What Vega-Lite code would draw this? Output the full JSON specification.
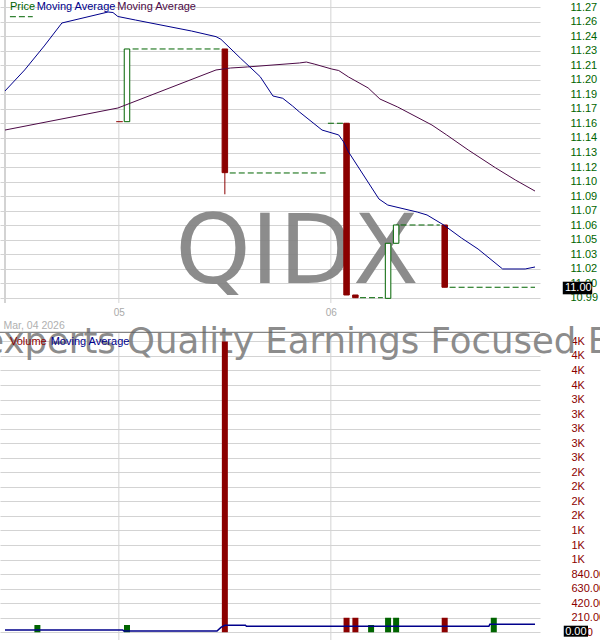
{
  "$schema": "https://vega.github.io/schema/vega-lite/v6.json",
  "width": 540,
  "height": 640,
  "autosize": {"type": "none"},
  "padding": {"left": 0, "top": 0, "right": 60, "bottom": 0},
  "background": "white",
  "config": {"view": {"stroke": null}, "font": "Liberation Sans"},
  "datasets": {
    "months": [{"m": 5}, {"m": 6}],
    "candles": [
      {"t": 5.03843, "open": 11.1595, "high": 11.2291, "low": 11.1595, "close": 11.2291, "dir": "up"},
      {"t": 5.5, "open": 11.2291, "high": 11.2291, "low": 11.0900, "close": 11.1107, "dir": "down"},
      {"t": 6.07407, "open": 11.1580, "high": 11.1580, "low": 10.9936, "close": 10.9936, "dir": "down"},
      {"t": 6.11574, "open": 10.9936, "high": 10.9936, "low": 10.9910, "close": 10.9910, "dir": "down"},
      {"t": 6.26991, "open": 10.9904, "high": 11.0431, "low": 10.9904, "close": 11.0431, "dir": "up"},
      {"t": 6.30787, "open": 11.0431, "high": 11.0606, "low": 11.0431, "close": 11.0606, "dir": "up"},
      {"t": 6.53704, "open": 11.0606, "high": 11.0606, "low": 11.0010, "close": 11.0010, "dir": "down"}
    ],
    "volume": [
      {"t": 4.61574, "volume": 105, "dir": "up"},
      {"t": 5.03843, "volume": 105, "dir": "up"},
      {"t": 5.5, "volume": 4200, "dir": "down"},
      {"t": 6.07407, "volume": 210, "dir": "down"},
      {"t": 6.11574, "volume": 210, "dir": "down"},
      {"t": 6.18981, "volume": 105, "dir": "up"},
      {"t": 6.26991, "volume": 210, "dir": "up"},
      {"t": 6.30787, "volume": 210, "dir": "up"},
      {"t": 6.53704, "volume": 210, "dir": "down"},
      {"t": 6.76852, "volume": 210, "dir": "up"}
    ],
    "flats": [
      {"from": 4.98750, "to": 5.01852, "price": 11.1595, "dir": "down"},
      {"from": 5.06481, "to": 5.48148, "price": 11.2291, "dir": "up"},
      {"from": 5.52315, "to": 5.97546, "price": 11.1104, "dir": "up"},
      {"from": 5.98611, "to": 6.06019, "price": 11.1580, "dir": "up"},
      {"from": 6.13750, "to": 6.24537, "price": 10.9910, "dir": "up"},
      {"from": 6.32870, "to": 6.51389, "price": 11.0606, "dir": "up"},
      {"from": 6.56019, "to": 6.96296, "price": 11.0010, "dir": "up"}
    ],
    "ma_fast": [
      {"t": 4.46296, "value": 11.1889},
      {"t": 4.55556, "value": 11.2090},
      {"t": 4.64815, "value": 11.2320},
      {"t": 4.73148, "value": 11.2540},
      {"t": 4.94907, "value": 11.2645},
      {"t": 4.97222, "value": 11.2640},
      {"t": 4.99537, "value": 11.2602},
      {"t": 5.07870, "value": 11.2568},
      {"t": 5.34259, "value": 11.2463},
      {"t": 5.45833, "value": 11.2409},
      {"t": 5.48148, "value": 11.2384},
      {"t": 5.57407, "value": 11.2202},
      {"t": 5.66667, "value": 11.2026},
      {"t": 5.72685, "value": 11.1841},
      {"t": 5.77315, "value": 11.1819},
      {"t": 5.81944, "value": 11.1745},
      {"t": 5.85185, "value": 11.1688},
      {"t": 5.95833, "value": 11.1515},
      {"t": 6.03704, "value": 11.1468},
      {"t": 6.06019, "value": 11.1401},
      {"t": 6.08333, "value": 11.1305},
      {"t": 6.22685, "value": 11.0855},
      {"t": 6.26852, "value": 11.0797},
      {"t": 6.40741, "value": 11.0730},
      {"t": 6.45370, "value": 11.0702},
      {"t": 6.53241, "value": 11.0606},
      {"t": 6.61574, "value": 11.0482},
      {"t": 6.69444, "value": 11.0376},
      {"t": 6.81019, "value": 11.0185},
      {"t": 6.91667, "value": 11.0185},
      {"t": 6.96296, "value": 11.0204}
    ],
    "ma_slow": [
      {"t": 4.46296, "value": 11.1515},
      {"t": 4.99537, "value": 11.1726},
      {"t": 5.45833, "value": 11.2090},
      {"t": 5.52778, "value": 11.2109},
      {"t": 5.60648, "value": 11.2119},
      {"t": 5.85185, "value": 11.2157},
      {"t": 5.88426, "value": 11.2166},
      {"t": 5.92130, "value": 11.2147},
      {"t": 6.00463, "value": 11.2099},
      {"t": 6.03704, "value": 11.2085},
      {"t": 6.08333, "value": 11.2023},
      {"t": 6.17593, "value": 11.1918},
      {"t": 6.23148, "value": 11.1812},
      {"t": 6.31481, "value": 11.1736},
      {"t": 6.47685, "value": 11.1563},
      {"t": 6.54630, "value": 11.1468},
      {"t": 6.64815, "value": 11.1324},
      {"t": 6.77778, "value": 11.1152},
      {"t": 6.87037, "value": 11.1037},
      {"t": 6.96296, "value": 11.0931}
    ],
    "vol_ma": [
      {"t": 4.46296, "value": 33},
      {"t": 5.01852, "value": 33},
      {"t": 5.02315, "value": 19},
      {"t": 5.46296, "value": 19},
      {"t": 5.48148, "value": 70},
      {"t": 5.5, "value": 101},
      {"t": 5.59722, "value": 101},
      {"t": 5.60185, "value": 87},
      {"t": 6.74537, "value": 87},
      {"t": 6.75, "value": 115},
      {"t": 6.96296, "value": 115}
    ]
  },
  "layer": [
    {
      "layer": [
        {
          "data": {"name": "months"},
          "mark": {"type": "rule", "color": "#d3d3d3", "strokeWidth": 1},
          "encoding": {
            "x": {
              "field": "m", "type": "quantitative",
              "scale": {"domain": [4.46296, 6.96296], "nice": false, "zero": false},
              "axis": {
                "orient": "bottom", "offset": -337, "values": [5, 6], "format": "02d",
                "grid": false, "ticks": false, "tickSize": 0, "domain": false, "tickCount": 100,
                "labelColor": "#aaaaaa", "labelFont": "Liberation Sans", "labelFontSize": 10,
                "labelPadding": 4, "labelFlush": false, "labelOverlap": false,
                "title": "Mar, 04 2026", "titleFont": "Liberation Sans", "titleFontSize": 10.5,
                "titleFontWeight": "normal", "titleColor": "#b0b0b0", "titleAnchor": "start",
                "titleAlign": "left", "titleBaseline": "alphabetic", "titleX": 3, "titleY": 25
              }
            },
            "y": {
              "datum": 11.27599, "type": "quantitative",
              "scale": {"domain": [10.66332, 11.27599], "nice": false, "zero": false},
              "axis": {
                "orient": "right",
                "values": [10.991, 11.0049, 11.0188, 11.0327, 11.0466, 11.0605, 11.0744, 11.0883, 11.1022, 11.1161, 11.13, 11.1439, 11.1578, 11.1717, 11.1856, 11.1995, 11.2134, 11.2273, 11.2412, 11.2551, 11.269],
                "tickCount": 100,
                "format": ".2f", "grid": true, "gridColor": "#d3d3d3", "gridWidth": 1,
                "ticks": false, "tickSize": 0, "domain": false,
                "labelAlign": "left", "labelBaseline": "middle", "labelPadding": 30,
                "labelColor": "#006400", "labelFont": "Liberation Sans", "labelFontSize": 11,
                "labelOverlap": false, "labelFlush": false, "labelBound": false, "title": null
              }
            },
            "y2": {"datum": 10.98593}
          }
        },
        {
          "data": {"values": [{}]},
          "mark": {"type": "rule", "color": "#d3d3d3", "strokeWidth": 2},
          "encoding": {
            "x": {"datum": 4.46296, "type": "quantitative"},
            "y": {"datum": 11.27599, "type": "quantitative"},
            "y2": {"datum": 10.98593}
          }
        },
        {
          "data": {"values": [{}]},
          "mark": {"type": "text", "text": "QIDX", "font": "DejaVu Sans", "fontSize": 96, "align": "center", "baseline": "alphabetic", "color": "#808080", "opacity": 0.9},
          "encoding": {
            "x": {"datum": 5.84028, "type": "quantitative"},
            "y": {"datum": 11.00507, "type": "quantitative"}
          }
        },
        {
          "data": {"name": "flats"},
          "transform": [{"filter": "datum.dir == 'up'"}],
          "mark": {"type": "rule", "color": "#006400", "strokeDash": [6, 3], "strokeWidth": 1},
          "encoding": {
            "x": {"field": "from", "type": "quantitative"},
            "x2": {"field": "to"},
            "y": {"field": "price", "type": "quantitative"}
          }
        },
        {
          "data": {"name": "flats"},
          "transform": [{"filter": "datum.dir == 'down'"}],
          "mark": {"type": "rule", "color": "#8b0000", "strokeWidth": 1},
          "encoding": {
            "x": {"field": "from", "type": "quantitative"},
            "x2": {"field": "to"},
            "y": {"field": "price", "type": "quantitative"}
          }
        },
        {
          "data": {"name": "candles"},
          "mark": {"type": "rule", "strokeWidth": 1},
          "encoding": {
            "x": {"field": "t", "type": "quantitative"},
            "y": {"field": "low", "type": "quantitative"},
            "y2": {"field": "high"},
            "stroke": {"field": "dir", "type": "nominal", "scale": {"domain": ["up", "down"], "range": ["#006400", "#8b0000"]}, "legend": null}
          }
        },
        {
          "data": {"name": "candles"},
          "mark": {"type": "bar", "width": 5.5, "strokeWidth": 1, "orient": "vertical"},
          "encoding": {
            "x": {"field": "t", "type": "quantitative"},
            "y": {"field": "open", "type": "quantitative"},
            "y2": {"field": "close"},
            "fill": {"field": "dir", "type": "nominal", "scale": {"domain": ["up", "down"], "range": ["#ffffff", "#8b0000"]}, "legend": null},
            "stroke": {"field": "dir", "type": "nominal", "scale": {"domain": ["up", "down"], "range": ["#006400", "#8b0000"]}, "legend": null}
          }
        },
        {
          "data": {"name": "ma_slow"},
          "mark": {"type": "line", "color": "#4c0a46", "strokeWidth": 1},
          "encoding": {
            "x": {"field": "t", "type": "quantitative"},
            "y": {"field": "value", "type": "quantitative"}
          }
        },
        {
          "data": {"name": "ma_fast"},
          "mark": {"type": "line", "color": "#00008b", "strokeWidth": 1},
          "encoding": {
            "x": {"field": "t", "type": "quantitative"},
            "y": {"field": "value", "type": "quantitative"}
          }
        },
        {
          "data": {"values": [{}]},
          "mark": {"type": "text", "text": "Price", "align": "left", "baseline": "alphabetic", "dx": 5, "font": "Liberation Sans", "fontSize": 11, "color": "#006400"},
          "encoding": {
            "x": {"datum": 4.46296, "type": "quantitative"},
            "y": {"datum": 11.26594, "type": "quantitative"}
          }
        },
        {
          "data": {"values": [{}]},
          "mark": {"type": "text", "text": "Moving Average", "align": "left", "baseline": "alphabetic", "dx": 31.7, "font": "Liberation Sans", "fontSize": 11, "color": "#00008b"},
          "encoding": {
            "x": {"datum": 4.46296, "type": "quantitative"},
            "y": {"datum": 11.26594, "type": "quantitative"}
          }
        },
        {
          "data": {"values": [{}]},
          "mark": {"type": "text", "text": "Moving Average", "align": "left", "baseline": "alphabetic", "dx": 112.3, "font": "Liberation Sans", "fontSize": 11, "color": "#4c0a46"},
          "encoding": {
            "x": {"datum": 4.46296, "type": "quantitative"},
            "y": {"datum": 11.26594, "type": "quantitative"}
          }
        },
        {
          "data": {"values": [{}]},
          "mark": {"type": "rule", "color": "#006400", "strokeDash": [6, 3], "strokeWidth": 1},
          "encoding": {
            "x": {"datum": 4.48611, "type": "quantitative"},
            "x2": {"datum": 4.59398},
            "y": {"datum": 11.26000, "type": "quantitative"}
          }
        },
        {
          "data": {"values": [{}]},
          "mark": {"type": "rect", "color": "#000000"},
          "encoding": {
            "x": {"datum": 7.09398, "type": "quantitative"},
            "x2": {"datum": 7.23287},
            "y": {"datum": 11.00632, "type": "quantitative"},
            "y2": {"datum": 10.99425}
          }
        },
        {
          "data": {"values": [{}]},
          "mark": {"type": "text", "text": "11.00", "align": "left", "baseline": "alphabetic", "font": "Liberation Sans", "fontSize": 11, "color": "#ffffff"},
          "encoding": {
            "x": {"datum": 7.10417, "type": "quantitative"},
            "y": {"datum": 10.99741, "type": "quantitative"}
          }
        }
      ]
    },
    {
      "layer": [
        {
          "data": {"name": "months"},
          "mark": {"type": "rule", "color": "#d3d3d3", "strokeWidth": 1},
          "encoding": {
            "x": {"field": "m", "type": "quantitative"},
            "y": {
              "datum": 4317, "type": "quantitative",
              "scale": {"domain": [-111.2, 9129.1], "nice": false, "zero": false},
              "axis": {
                "orient": "right",
                "values": [0, 210, 420, 630, 840, 1050, 1260, 1470, 1680, 1890, 2100, 2310, 2520, 2730, 2940, 3150, 3360, 3570, 3780, 3990, 4200],
                "tickCount": 100,
                "labelExpr": "datum.value >= 1000 ? format(datum.value / 1000, '.0f') + 'K' : format(datum.value, '.2f')",
                "grid": true, "gridColor": "#d3d3d3", "gridWidth": 1,
                "ticks": false, "tickSize": 0, "domain": false,
                "labelAlign": "left", "labelBaseline": "middle", "labelPadding": 31,
                "labelColor": "#8b0000", "labelFont": "Liberation Sans", "labelFontSize": 11,
                "labelOverlap": false, "labelFlush": false, "labelBound": false, "title": null
              }
            },
            "y2": {"datum": -111.2}
          }
        },
        {
          "data": {"values": [{}]},
          "mark": {"type": "text", "text": "Indexperts Quality Earnings Focused ETF", "font": "DejaVu Sans", "fontSize": 35.5, "align": "center", "baseline": "alphabetic", "color": "#808080", "opacity": 0.9},
          "encoding": {
            "x": {"datum": 5.80463, "type": "quantitative"},
            "y": {"datum": 4032.5, "type": "quantitative"}
          }
        },
        {
          "data": {"name": "volume"},
          "mark": {"type": "bar", "width": 6, "orient": "vertical"},
          "encoding": {
            "x": {"field": "t", "type": "quantitative"},
            "y": {"field": "volume", "type": "quantitative"},
            "y2": {"datum": 0},
            "color": {"field": "dir", "type": "nominal", "scale": {"domain": ["up", "down"], "range": ["#006400", "#8b0000"]}, "legend": null}
          }
        },
        {
          "data": {"name": "vol_ma"},
          "mark": {"type": "line", "color": "#00008b", "strokeWidth": 1.5},
          "encoding": {
            "x": {"field": "t", "type": "quantitative"},
            "y": {"field": "value", "type": "quantitative"}
          }
        },
        {
          "data": {"values": [{}]},
          "mark": {"type": "rule", "color": "#666666", "strokeWidth": 1},
          "encoding": {
            "y": {"datum": 4331.4, "type": "quantitative"}
          }
        },
        {
          "data": {"values": [{}]},
          "mark": {"type": "text", "text": "Volume", "align": "left", "baseline": "alphabetic", "dx": 5, "font": "Liberation Sans", "fontSize": 11, "color": "#8b0000"},
          "encoding": {
            "x": {"datum": 4.46296, "type": "quantitative"},
            "y": {"datum": 4152, "type": "quantitative"}
          }
        },
        {
          "data": {"values": [{}]},
          "mark": {"type": "text", "text": "Moving Average", "align": "left", "baseline": "alphabetic", "dx": 45.7, "font": "Liberation Sans", "fontSize": 11, "color": "#00008b"},
          "encoding": {
            "x": {"datum": 4.46296, "type": "quantitative"},
            "y": {"datum": 4152, "type": "quantitative"}
          }
        },
        {
          "data": {"values": [{}]},
          "mark": {"type": "rect", "color": "#000000"},
          "encoding": {
            "x": {"datum": 7.09861, "type": "quantitative"},
            "x2": {"datum": 7.21296},
            "y": {"datum": 95.3, "type": "quantitative"},
            "y2": {"datum": -63.5}
          }
        },
        {
          "data": {"values": [{}]},
          "mark": {"type": "text", "text": "0.00", "align": "left", "baseline": "alphabetic", "font": "Liberation Sans", "fontSize": 11, "color": "#ffffff"},
          "encoding": {
            "x": {"datum": 7.10509, "type": "quantitative"},
            "y": {"datum": -43.3, "type": "quantitative"}
          }
        }
      ]
    }
  ],
  "resolve": {"scale": {"y": "independent"}, "axis": {"y": "independent"}}
}
